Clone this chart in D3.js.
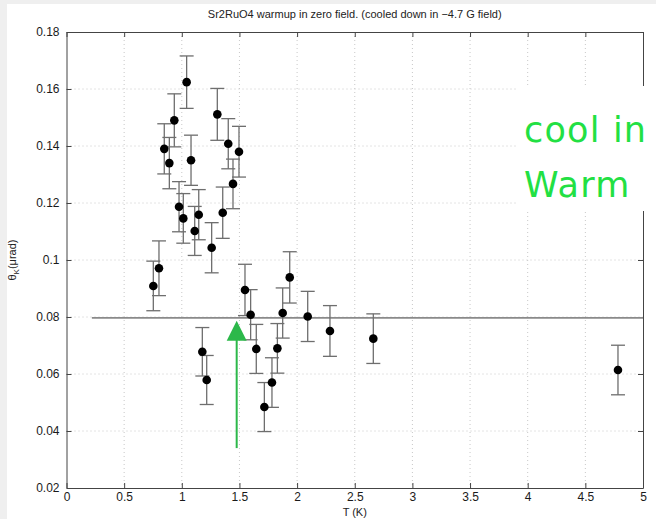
<!DOCTYPE html>
<html lang="en">
<head>
<meta charset="UTF-8">
<title>Sr2RuO4 warmup</title>
<script src="https://cdn.jsdelivr.net/npm/d3@7"></script>
<style>
  body { margin: 0; background: #efefef; }
  svg { display: block; font-family: "Liberation Sans", Arial, sans-serif; }
</style>
</head>
<body>
<svg id="chart" width="656" height="519"></svg>
<script>
// data
const temps = [0.753, 0.802, 0.848, 0.892, 0.935, 0.976, 1.013, 1.042, 1.08, 1.112,
               1.147, 1.178, 1.216, 1.259, 1.308, 1.355, 1.403, 1.444, 1.496, 1.548,
               1.597, 1.646, 1.716, 1.782, 1.829, 1.875, 1.936, 2.092, 2.285, 2.661, 4.783];
const theta = [0.0909, 0.0971, 0.139, 0.134, 0.149, 0.1187, 0.1146, 0.1624, 0.135, 0.1102,
               0.1159, 0.0678, 0.0579, 0.1043, 0.1511, 0.1166, 0.1408, 0.1267, 0.138, 0.0895,
               0.0808, 0.0688, 0.0484, 0.057, 0.069, 0.0814, 0.0939, 0.0802, 0.0751, 0.0724, 0.0614];
const errs  = [0.0087, 0.0096, 0.0088, 0.009, 0.0093, 0.0088, 0.0087, 0.0092, 0.0088, 0.0086,
               0.0088, 0.0085, 0.0086, 0.0088, 0.0091, 0.009, 0.0088, 0.0087, 0.0089, 0.009,
               0.0088, 0.0086, 0.0086, 0.0087, 0.0087, 0.0088, 0.009, 0.0088, 0.0089, 0.0087, 0.0087];
const xTicks = [0, 0.5, 1, 1.5, 2, 2.5, 3, 3.5, 4, 4.5, 5];
const yTicks = [0.02, 0.04, 0.06, 0.08, 0.1, 0.12, 0.14, 0.16, 0.18];
const baseLevel = 0.0797, baseStart = 0.22;
const arrowT = 1.476, arrowFrom = 0.034, arrowTo = 0.0787;

const svg = d3.select("#chart");
svg.append("rect").attr("x", 7).attr("y", 4).attr("width", 649).attr("height", 515).attr("fill", "#fff");

const x = d3.scaleLinear().domain([0, 5]).range([66.5, 643]);
const y = d3.scaleLinear().domain([0.02, 0.18]).range([488, 32]);

// dotted grid
const grid = svg.append("g").attr("stroke", "#c8c8c8").attr("stroke-dasharray", "1,3");
grid.selectAll(".gx").data(xTicks.slice(1, -1)).join("line")
    .attr("x1", d => x(d)).attr("x2", d => x(d)).attr("y1", y(0.18)).attr("y2", y(0.02));
grid.selectAll(".gy").data(yTicks.slice(1, -1)).join("line")
    .attr("y1", d => y(d)).attr("y2", d => y(d)).attr("x1", x(0)).attr("x2", x(5));

// axes, ticks inside like MATLAB
const styleAxis = g => {
    g.select(".domain").attr("stroke", "#444");
    g.selectAll(".tick line").attr("stroke", "#444");
    g.selectAll("text").attr("fill", "#1a1a1a").style("font-size", "12px");
};
svg.append("g").attr("transform", `translate(0,${y(0.02)})`)
    .call(d3.axisBottom(x).tickValues(xTicks).tickSize(-5).tickPadding(4).tickSizeOuter(0).tickFormat(d => String(d)))
    .call(styleAxis);
svg.append("g").attr("transform", `translate(0,${y(0.18)})`)
    .call(d3.axisTop(x).tickValues(xTicks).tickSize(-5).tickSizeOuter(0).tickFormat(""))
    .call(styleAxis);
svg.append("g").attr("transform", `translate(${x(0)},0)`)
    .call(d3.axisLeft(y).tickValues(yTicks).tickSize(-5).tickPadding(7).tickSizeOuter(0).tickFormat(d => String(d)))
    .call(styleAxis);
svg.append("g").attr("transform", `translate(${x(5)},0)`)
    .call(d3.axisRight(y).tickValues(yTicks).tickSize(-5).tickSizeOuter(0).tickFormat(""))
    .call(styleAxis);

// reference level
svg.append("line")
    .attr("x1", x(baseStart)).attr("x2", x(5))
    .attr("y1", y(baseLevel)).attr("y2", y(baseLevel))
    .attr("stroke", "#8a8a8a").attr("stroke-width", 1.6);

// error bars
const pts = temps.map((t, i) => ({ t, v: theta[i], e: errs[i] }));
const eb = svg.append("g").attr("stroke", "#6e6e6e").attr("stroke-width", 1.3);
eb.selectAll(".stem").data(pts).join("line")
    .attr("x1", d => x(d.t)).attr("x2", d => x(d.t))
    .attr("y1", d => y(d.v - d.e)).attr("y2", d => y(d.v + d.e));
eb.selectAll(".capTop").data(pts).join("line")
    .attr("x1", d => x(d.t) - 7).attr("x2", d => x(d.t) + 7)
    .attr("y1", d => y(d.v + d.e)).attr("y2", d => y(d.v + d.e));
eb.selectAll(".capBot").data(pts).join("line")
    .attr("x1", d => x(d.t) - 7).attr("x2", d => x(d.t) + 7)
    .attr("y1", d => y(d.v - d.e)).attr("y2", d => y(d.v - d.e));

svg.append("g").selectAll("circle").data(pts).join("circle")
    .attr("cx", d => x(d.t)).attr("cy", d => y(d.v)).attr("r", 4.3).attr("fill", "#000");

// green arrow
const ag = svg.append("g").attr("fill", "#2cb84a").attr("stroke", "#2cb84a");
ag.append("line").attr("x1", x(arrowT)).attr("x2", x(arrowT))
    .attr("y1", y(arrowFrom)).attr("y2", y(arrowTo) + 18).attr("stroke-width", 2);
ag.append("path").attr("stroke", "none")
    .attr("d", `M${x(arrowT)},${y(arrowTo)} l10,20 l-20,0 Z`);

// titles
svg.append("text").attr("x", (x(0) + x(5)) / 2).attr("y", 18).attr("text-anchor", "middle")
    .style("font-size", "11px").attr("fill", "#222")
    .text("Sr2RuO4 warmup in zero field. (cooled down in \u22124.7 G field)");
svg.append("text").attr("x", (x(0) + x(5)) / 2).attr("y", 516).attr("text-anchor", "middle")
    .style("font-size", "11px").attr("fill", "#222").text("T (K)");
const yl = svg.append("text").attr("transform", `translate(16,${y(0.1)}) rotate(-90)`)
    .attr("text-anchor", "middle").style("font-size", "11px").attr("fill", "#222");
yl.append("tspan").text("\u03b8");
yl.append("tspan").attr("dy", 3).style("font-size", "8px").text("K");
yl.append("tspan").attr("dy", -3).text("(\u03bcrad)");

// annotation box on the right
svg.append("rect").attr("x", 516).attr("y", 86).attr("width", 140).attr("height", 125).attr("fill", "#fff");
const note = svg.append("g").attr("fill", "#22e043")
    .style("font-family", "'DejaVu Sans', sans-serif").style("font-size", "35px").style("letter-spacing", "1.2px");
note.append("text").attr("x", 524).attr("y", 142).text("cool in");
note.append("text").attr("x", 524).attr("y", 197).text("Warm");
</script>
</body>
</html>
